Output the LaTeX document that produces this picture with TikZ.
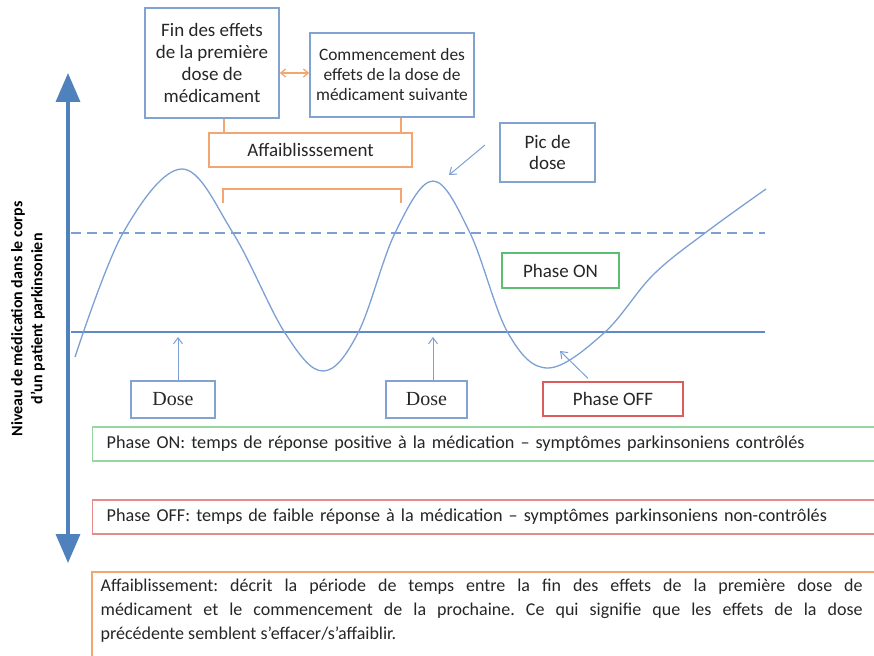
\documentclass[tikz,border=0pt]{standalone}
\usepackage{fontspec}
\setmainfont{Carlito}[BoldFont={Carlito Bold}]
\newfontfamily\labelfont{Carlito Bold}
\newfontfamily\dosefont{Liberation Serif}
\usetikzlibrary{arrows.meta}
\definecolor{txt}{RGB}{38,38,38}
\definecolor{boxblue}{RGB}{130,162,210}
\definecolor{curveblue}{RGB}{125,160,212}
\definecolor{axisfill}{RGB}{79,129,189}
\definecolor{axisdraw}{RGB}{56,100,160}
\definecolor{lineblue}{RGB}{95,138,200}
\definecolor{ongreen}{RGB}{92,190,112}
\definecolor{offred}{RGB}{218,92,92}
\definecolor{ongreenl}{RGB}{150,215,160}
\definecolor{offredl}{RGB}{228,140,140}
\definecolor{orng}{RGB}{244,166,112}
\frenchspacing
\tikzset{
  base/.style={font=\fontsize{19}{21.7}\selectfont, text=txt, line width=1.3pt, inner sep=2pt, align=center},
  bluebox/.style={base, draw=boxblue},
  orangebox/.style={base, draw=orng},
  greenbox/.style={base, draw=ongreen},
  redbox/.style={base, draw=offred},
  dosebox/.style={base, draw=boxblue, font=\dosefont\fontsize{20}{22}\selectfont},
  thinarrow/.style={draw=curveblue, line width=1pt, -{Straight Barb[length=6pt,width=9pt]}},
  defbox/.style={base, font=\fontsize{18.2}{21}\selectfont, align=left, anchor=west, text width=780pt, inner xsep=14pt, minimum height=34pt},
}
\begin{document}
\begin{tikzpicture}[x=1pt,y=-1pt]
\useasboundingbox (0,0) rectangle (874,655);
\clip (0,0) rectangle (874,655);

% axis
\coordinate (axtop) at (68,73);
\coordinate (axbot) at (68,563);
\draw[line width=3.5pt, draw=axisfill,
  {Triangle[length=29pt,width=24pt,fill=axisfill]}-{Triangle[length=29pt,width=24pt,fill=axisfill]}]
  (axtop) -- (axbot);
\node[rotate=90, font=\labelfont\fontsize{16}{20}\selectfont, text=black, align=center] (axlabel) at (28,319)
  {Niveau de médication dans le corps\\d’un patient parkinsonien};

% reference lines
\coordinate (dl) at (71,233); \coordinate (dr) at (765,233);
\coordinate (sl) at (71,332); \coordinate (sr) at (765,332);
\draw[curveblue, line width=1.5pt, dash pattern=on 10pt off 6pt] (dl) -- (dr);
\draw[lineblue, line width=1.5pt] (sl) -- (sr);

% curve
\draw[curveblue, line width=1.3pt] plot[smooth, tension=0.6] coordinates {
 (75,357) (123,233) (182,169) (233,233) (285,333) (323,371) (358,333)
 (395,233) (433,181) (470,233) (508,333) (548,368) (604,333) (653,275)
 (705,233) (766,189)};

% top boxes
\node[bluebox, minimum width=134pt, minimum height=110pt] (fin) at (212,63)
  {Fin des effets\\de la première\\dose de\\médicament};
\node[bluebox, font=\fontsize{17.4}{20}\selectfont, minimum width=164pt, minimum height=84pt] (debut) at (392,75)
  {Commencement des\\effets de la dose de\\médicament suivante};
\draw[orng, line width=1.3pt, {Straight Barb[length=5pt,width=8pt]}-{Straight Barb[length=5pt,width=8pt]}]
  ([yshift=-10pt]fin.east) -- ([yshift=-10pt]fin.east -| debut.west);
\node[orangebox, minimum width=203pt, minimum height=34pt] (aff) at (310.5,150) {Affaiblisssement};
\draw[orng, line width=1.3pt] ([xshift=12pt]fin.south) -- ([xshift=12pt]fin.south |- aff.north);
\draw[orng, line width=1.3pt] ([xshift=9pt]debut.south) -- ([xshift=9pt]debut.south |- aff.north);

% bracket
\coordinate (br1) at (223,203); \coordinate (br2) at (223,189);
\coordinate (br3) at (401,189); \coordinate (br4) at (401,203);
\draw[orng, line width=1.5pt] (br1) -- (br2) -- (br3) -- (br4);

% pic de dose
\node[bluebox, minimum width=95pt, minimum height=59pt] (pic) at (547.5,152.5) {Pic de\\dose};
\coordinate (picstart) at (485,145);
\coordinate (picend) at (449,175);
\draw[thinarrow] (picstart) -- (picend);

% phase boxes
\node[greenbox, minimum width=117pt, minimum height=35pt] (on) at (560.5,270.5) {Phase ON};
\node[redbox, minimum width=140pt, minimum height=34pt] (off) at (613,399) {Phase OFF};
\coordinate (offend) at (560,351);
\draw[thinarrow] ([xshift=-25pt,yshift=3pt]off.north) -- (offend);

% dose boxes
\node[dosebox, minimum width=84pt, minimum height=37pt] (dose1) at (173,399.5) {Dose};
\node[dosebox, minimum width=81pt, minimum height=37pt] (dose2) at (426.5,399.5) {Dose};
\coordinate (d1end) at (178,337);
\coordinate (d2end) at (433,337);
\draw[thinarrow] (dose1.north -| d1end) -- (d1end);
\draw[thinarrow] (dose2.north -| d2end) -- (d2end);

% definitions
\node[defbox, draw=ongreenl] (ondef) at (92,444)
  {Phase ON: temps de réponse positive à la médication – symptômes parkinsoniens contrôlés};
\node[defbox, draw=offredl] (offdef) at (92,517)
  {Phase OFF: temps de faible réponse à la médication – symptômes parkinsoniens non-contrôlés};
\node[base, align=justify, anchor=north west, text width=762pt, inner xsep=8pt, inner ysep=4pt,
  font=\fontsize{18}{24}\selectfont] (affdef) at (92,574)
  {Affaiblissement: décrit la période de temps entre la fin des effets de la première dose de\linebreak
   médicament et le commencement de la prochaine. Ce qui signifie que les effets de la dose\linebreak
   précédente semblent s’effacer/s’affaiblir.};
\draw[orng, line width=1.3pt] (92,668) -- (92,572) -- (890,572);
\end{tikzpicture}
\end{document}
